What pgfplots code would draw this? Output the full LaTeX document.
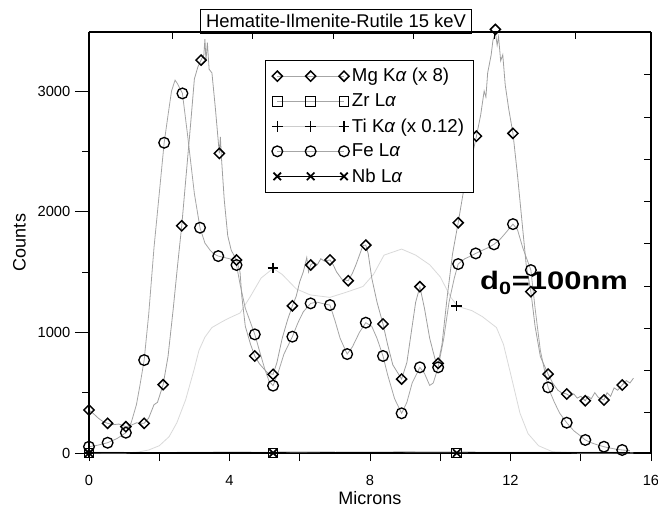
\documentclass[border=0pt]{standalone}
\usepackage{pgfplots}
\pgfplotsset{compat=1.18}
\usepackage{fontspec}
\setmainfont{Liberation Sans}
\usepackage{graphicx}
\pgfplotsset{legend image code/.code={\draw[#1] plot coordinates {(0pt,0pt) (25pt,0pt) (50pt,0pt)};}}
\newcommand{\ka}{\textit{α}}
\begin{document}
\begin{tikzpicture}
% ---------- data axis ----------
\begin{axis}[
  name=ax,
  scale only axis, width=421.5pt, height=315.75pt,
  xmin=0, xmax=16, ymin=0, ymax=3489,
  clip=false,
  axis x line*=bottom, axis y line*=left,
  axis line style={line width=0.8pt},
  xtick={0,4,8,12,16}, minor xtick={2,6,10,14},
  ytick=\empty,
  tick align=outside, major tick length=6pt, minor tick length=6pt,
  every tick/.style={black, line width=0.7pt},
  ticklabel style={font=\fontsize{11}{13}\selectfont},
  xticklabel style={yshift=-7pt},
  /pgf/number format/assume math mode=true,
  /pgf/number format/1000 sep={},
  xlabel={Microns},
  xlabel style={yshift=2pt},
  label style={font=\fontsize{13.5}{16}\selectfont},
  legend cell align=left,
  legend style={at={(rel axis cs:0.313,0.9335)}, anchor=north west,
    draw=black, line width=0.6pt, font=\fontsize{14}{15}\selectfont,
    row sep=3.4pt, inner xsep=5pt, inner ysep=4pt},
]
\addlegendimage{draw=gray!70, line width=0.6pt, mark=square, mark size=2.7pt, mark options={draw=black, solid, rotate=45, line width=1.1pt}}
\addlegendentry{Mg K\ka{} (x 8)}
\addlegendimage{draw=gray!70, line width=0.6pt, mark=square, mark size=3.6pt, mark options={draw=black, solid, line width=0.7pt}}
\addlegendentry{Zr L\ka}
\addlegendimage{draw=gray!40, line width=0.6pt, mark=+, mark size=4pt, mark options={draw=black, solid, line width=0.9pt}}
\addlegendentry{Ti K\ka{} (x 0.12)}
\addlegendimage{draw=gray!70, line width=0.6pt, mark=o, mark size=4pt, mark options={draw=black, solid, line width=1.0pt}}
\addlegendentry{Fe L\ka}
\addlegendimage{draw=black, line width=0.8pt, mark=x, mark size=4pt, mark options={draw=black, solid, line width=1.3pt}}
\addlegendentry{Nb L\ka}

% Ti line (x 0.12)
\addplot[forget plot, gray!30, line width=0.6pt] coordinates {
(0,0) (1.0,0) (1.4,8) (1.7,25) (2.0,60) (2.28,135) (2.5,250) (2.75,440) (3.0,700) (3.13,850) (3.3,960) (3.5,1040) (3.8,1090) (4.0,1120) (4.3,1160) (4.6,1300) (4.9,1450) (5.24,1530) (5.5,1480) (5.9,1360) (6.3,1310) (6.86,1290) (7.3,1330) (7.8,1380) (8.1,1480) (8.4,1640) (8.9,1690) (9.3,1640) (9.7,1560) (10.0,1460) (10.3,1290) (10.5,1215) (10.9,1180) (11.2,1130) (11.6,1040) (11.8,900) (12.0,660) (12.27,330) (12.5,160) (12.8,60) (13.2,10) (14,0) (15.5,0)};
% Zr and Nb lines near zero
\addplot[forget plot, gray!70, line width=0.6pt] coordinates {(0,6) (2,4) (4,8) (6,5) (8,9) (10,6) (12,5) (14,7) (15.4,5)};
\addplot[forget plot, black, line width=0.6pt] coordinates {(0,3) (2,5) (4,3) (6,6) (8,4) (10,7) (12,3) (14,4) (15.4,3)};
% Fe line
\addplot[forget plot, gray!70, line width=0.6pt] coordinates {
(0,52) (0.25,65) (0.53,85) (0.8,120) (1.05,168) (1.2,250) (1.35,400) (1.45,560) (1.57,770) (1.7,1150) (1.85,1700) (2.0,2150) (2.14,2571) (2.25,2800) (2.35,3000) (2.45,3090) (2.52,3060) (2.66,2980) (2.8,2650) (2.9,2400) (3.0,2150) (3.16,1867) (3.3,1740) (3.45,1680) (3.55,1650) (3.68,1632) (3.85,1620) (4.0,1610) (4.1,1600) (4.2,1558) (4.3,1400) (4.45,1200) (4.6,1080) (4.72,983) (4.85,850) (5.0,700) (5.12,600) (5.24,558) (5.4,680) (5.55,820) (5.79,964) (5.95,1080) (6.1,1170) (6.31,1240) (6.5,1250) (6.7,1235) (6.86,1226) (7.0,1100) (7.15,950) (7.35,820) (7.5,880) (7.7,1000) (7.88,1080) (8.05,1050) (8.2,950) (8.37,804) (8.5,650) (8.7,450) (8.9,329) (9.05,420) (9.2,580) (9.42,710) (9.55,660) (9.7,560) (9.8,580) (9.94,710) (10.1,950) (10.25,1250) (10.4,1450) (10.51,1566) (10.7,1610) (10.85,1630) (11.01,1654) (11.2,1680) (11.35,1700) (11.53,1729) (11.7,1770) (11.85,1820) (12.07,1897) (12.2,1850) (12.35,1700) (12.45,1620) (12.58,1516) (12.7,1200) (12.85,850) (13.07,544) (13.25,420) (13.4,330) (13.6,251) (13.8,185) (14.0,140) (14.13,108) (14.3,85) (14.5,65) (14.66,52) (14.85,40) (15.0,32) (15.18,25) (15.4,20)};
% Mg line (x 8)
\addplot[forget plot, gray!75, line width=0.6pt] coordinates {
(0,356) (0.15,320) (0.26,290) (0.4,260) (0.53,246) (0.7,235) (0.85,240) (1.05,218) (1.2,230) (1.35,250) (1.57,246) (1.7,290) (1.85,400) (1.95,420) (2.11,566) (2.25,800) (2.4,1200) (2.52,1550) (2.64,1883) (2.78,2350) (2.9,2750) (3.0,3100) (3.1,3200) (3.19,3256) (3.27,3300) (3.3,3430) (3.33,3250) (3.37,3400) (3.42,3180) (3.5,3150) (3.6,2850) (3.71,2483) (3.74,2620) (3.77,2450) (3.85,2100) (3.95,1800) (4.05,1680) (4.2,1599) (4.3,1500) (4.35,1300) (4.45,1050) (4.6,900) (4.72,804) (4.85,740) (5.0,690) (5.1,660) (5.24,652) (5.35,750) (5.5,950) (5.65,1100) (5.79,1220) (5.9,1300) (6.0,1420) (6.1,1500) (6.2,1620) (6.25,1500) (6.31,1558) (6.4,1580) (6.5,1560) (6.6,1610) (6.7,1590) (6.86,1600) (6.95,1560) (7.05,1500) (7.2,1440) (7.38,1428) (7.5,1490) (7.6,1560) (7.7,1640) (7.8,1720) (7.88,1723) (7.95,1650) (8.05,1450) (8.2,1250) (8.37,1069) (8.5,900) (8.65,730) (8.9,613) (9.05,750) (9.2,1050) (9.3,1250) (9.42,1378) (9.55,1200) (9.7,950) (9.85,780) (9.94,743) (10.05,900) (10.2,1300) (10.35,1650) (10.51,1908) (10.65,2150) (10.8,2350) (10.9,2450) (11.03,2626) (11.15,2800) (11.25,3000) (11.3,2950) (11.35,3150) (11.45,3300) (11.5,3420) (11.57,3480) (11.62,3380) (11.66,3450) (11.72,3250) (11.78,3300) (11.85,3050) (11.95,2850) (12.07,2649) (12.2,2300) (12.35,1850) (12.45,1550) (12.58,1337) (12.7,1050) (12.85,800) (13.07,654) (13.2,580) (13.35,520) (13.45,500) (13.6,489) (13.7,470) (13.8,490) (13.9,455) (14.0,470) (14.13,433) (14.2,470) (14.3,450) (14.4,500) (14.5,460) (14.66,439) (14.75,500) (14.85,470) (14.95,540) (15.05,520) (15.18,563) (15.3,600) (15.4,580) (15.5,620)};

% markers
\addplot[forget plot, only marks, mark=square, mark size=2.7pt, mark options={draw=black, rotate=45, line width=1.1pt}] coordinates {
(0,356) (0.53,246) (1.05,218) (1.57,246) (2.11,566) (2.64,1883) (3.19,3256) (3.71,2483) (4.2,1599) (4.72,804) (5.24,652) (5.79,1220) (6.31,1558) (6.86,1600) (7.38,1428) (7.88,1723) (8.37,1069) (8.9,613) (9.42,1378) (9.94,743) (10.51,1908) (11.03,2626) (11.57,3510) (12.07,2649) (12.58,1337) (13.07,654) (13.6,489) (14.13,433) (14.66,439) (15.18,563)};
\addplot[forget plot, only marks, mark=o, mark size=4pt, mark options={draw=black, line width=1.0pt}] coordinates {
(0,52) (0.53,85) (1.05,168) (1.57,770) (2.14,2571) (2.66,2980) (3.16,1867) (3.68,1632) (4.2,1558) (4.72,983) (5.24,558) (5.79,964) (6.31,1240) (6.86,1226) (7.35,820) (7.88,1080) (8.37,804) (8.9,329) (9.42,710) (9.94,710) (10.51,1566) (11.01,1654) (11.53,1729) (12.07,1897) (12.58,1516) (13.07,544) (13.6,251) (14.13,108) (14.66,52) (15.18,25)};
\addplot[forget plot, only marks, mark=square, mark size=3.6pt, mark options={draw=black, line width=0.7pt}] coordinates {(0,0) (5.24,0) (10.47,0)};
\addplot[forget plot, only marks, mark=x, mark size=4pt, mark options={draw=black, line width=1.3pt}] coordinates {(0,0) (5.24,0) (10.47,0)};
\addplot[forget plot, only marks, mark=+, mark size=4pt, mark options={draw=black, line width=0.9pt}] coordinates {(0,0) (5.24,1533) (10.47,1218)};

\node[draw=black, fill=white, line width=0.8pt, font=\fontsize{13.8}{15}\selectfont, inner xsep=4pt, inner ysep=4pt, anchor=south] at (rel axis cs:0.4395,1) [yshift=-1.5pt] {Hematite-Ilmenite-Rutile 15 keV};
\node[font=\fontsize{19}{22}\selectfont\bfseries, inner sep=0pt] at (axis cs:13.24,1409) {\scalebox{1.22}[1]{d\textsubscript{0}=100nm}};
\end{axis}
% ---------- left y ticks ----------
\begin{axis}[
  scale only axis, width=421.5pt, height=315.75pt,
  xmin=0, xmax=16, ymin=0, ymax=3489,
  axis y line*=left, axis x line=none,
  axis line style={line width=0.8pt},
  ytick={0,1000,2000,3000}, minor ytick={500,1500,2500},
  tick align=outside, major tick length=10.5pt, minor tick length=5pt,
  every tick/.style={black, line width=0.7pt},
  ticklabel style={font=\fontsize{11}{13}\selectfont},
  /pgf/number format/assume math mode=true,
  /pgf/number format/1000 sep={},
  ylabel={Counts},
  label style={font=\fontsize{13.5}{16}\selectfont},
  ylabel style={yshift=2pt},
]
\end{axis}
% ---------- top/right ticks ----------
\begin{axis}[
  scale only axis, width=421.5pt, height=315.75pt,
  xmin=0, xmax=16, ymin=0, ymax=3489,
  axis x line*=top, axis y line*=right,
  axis line style={line width=0.8pt},
  xtick={2.363,4.641,6.947,9.224,11.53,13.84},
  ytick={333,683,1033,1383,1733,2083,2433,2783,3133},
  xticklabels={}, yticklabels={},
  tick align=inside, major tick length=5.5pt,
  every tick/.style={black, line width=0.7pt},
]
\end{axis}
\pgfresetboundingbox
\path (-66.75pt,-44.25pt) rectangle (426.75pt,339.75pt);
\end{tikzpicture}
\end{document}
